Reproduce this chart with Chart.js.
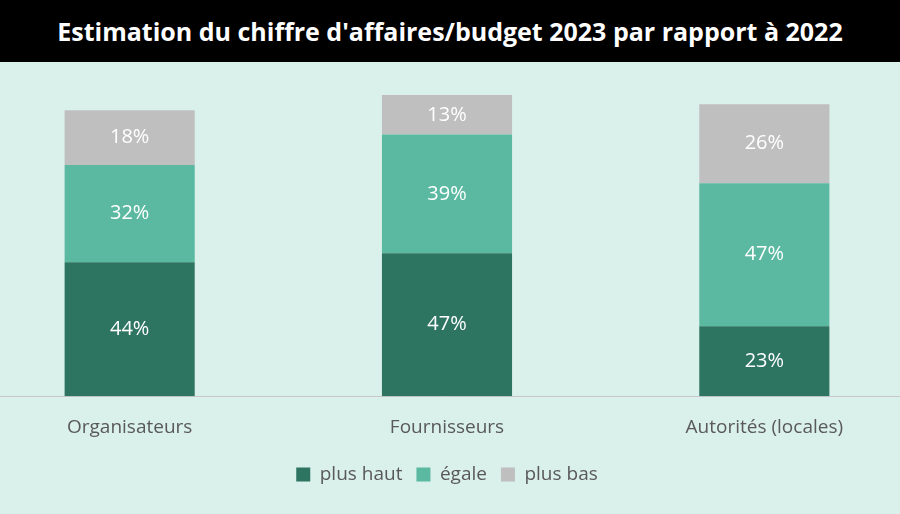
<!DOCTYPE html>
<html>
<head>
<meta charset="utf-8">
<script src="https://cdn.jsdelivr.net/npm/chart.js@4"></script>
<style>
  body { margin: 0; width: 900px; height: 514px; overflow: hidden; background: #daf0ea; position: relative; font-family: "Open Sans", sans-serif; }
  #title { height: 62px; background: #000; color: #fff; font-weight: bold; font-size: 25px; line-height: 62px; text-align: center; }
  #wrap { position: absolute; left: -29px; top: 62px; width: 952px; height: 452px; }
</style>
</head>
<body>
<div id="title">Estimation du chiffre d'affaires/budget 2023 par rapport à 2022</div>
<div id="wrap"><canvas id="c"></canvas></div>
<script>
const categories = ['Organisateurs', 'Fournisseurs', 'Autorités (locales)'];
const plusHaut = [44, 47, 23];
const egale = [32, 39, 47];
const plusBas = [18, 13, 26];

const labelPlugin = {
  id: 'segLabels',
  afterDatasetsDraw(chart) {
    const ctx = chart.ctx;
    ctx.save();
    ctx.fillStyle = '#ffffff';
    ctx.font = '20px "Open Sans"';
    ctx.textAlign = 'center';
    ctx.textBaseline = 'middle';
    chart.data.datasets.forEach((ds, i) => {
      chart.getDatasetMeta(i).data.forEach((bar, j) => {
        const p = bar.getProps(['x', 'y', 'base'], true);
        ctx.fillText(ds.data[j] + '%', p.x, (p.y + p.base) / 2);
      });
    });
    ctx.restore();
  }
};

new Chart(document.getElementById('c'), {
  type: 'bar',
  data: {
    labels: categories,
    datasets: [
      { label: 'plus haut', data: plusHaut, backgroundColor: '#2e7561' },
      { label: 'égale', data: egale, backgroundColor: '#5bb9a1' },
      { label: 'plus bas', data: plusBas, backgroundColor: '#bfbfbf' },
    ],
  },
  options: {
    responsive: true,
    maintainAspectRatio: false,
    animation: false,
    layout: { padding: { top: 30, bottom: 20 } },
    datasets: { bar: { barPercentage: 0.41, categoryPercentage: 1 } },
    plugins: {
      tooltip: { enabled: false },
      legend: {
        position: 'bottom',
        labels: { color: '#595959', font: { size: 19, family: 'Open Sans' }, boxWidth: 14, boxHeight: 14, padding: 14 },
      },
    },
    scales: {
      x: {
        stacked: true,
        grid: { display: false },
        border: { color: '#c8c8c8' },
        ticks: { color: '#595959', font: { size: 19, family: 'Open Sans' }, padding: 12 },
      },
      y: { stacked: true, display: false, min: 0, max: 100 },
    },
  },
  plugins: [labelPlugin],
});
</script>
</body>
</html>
